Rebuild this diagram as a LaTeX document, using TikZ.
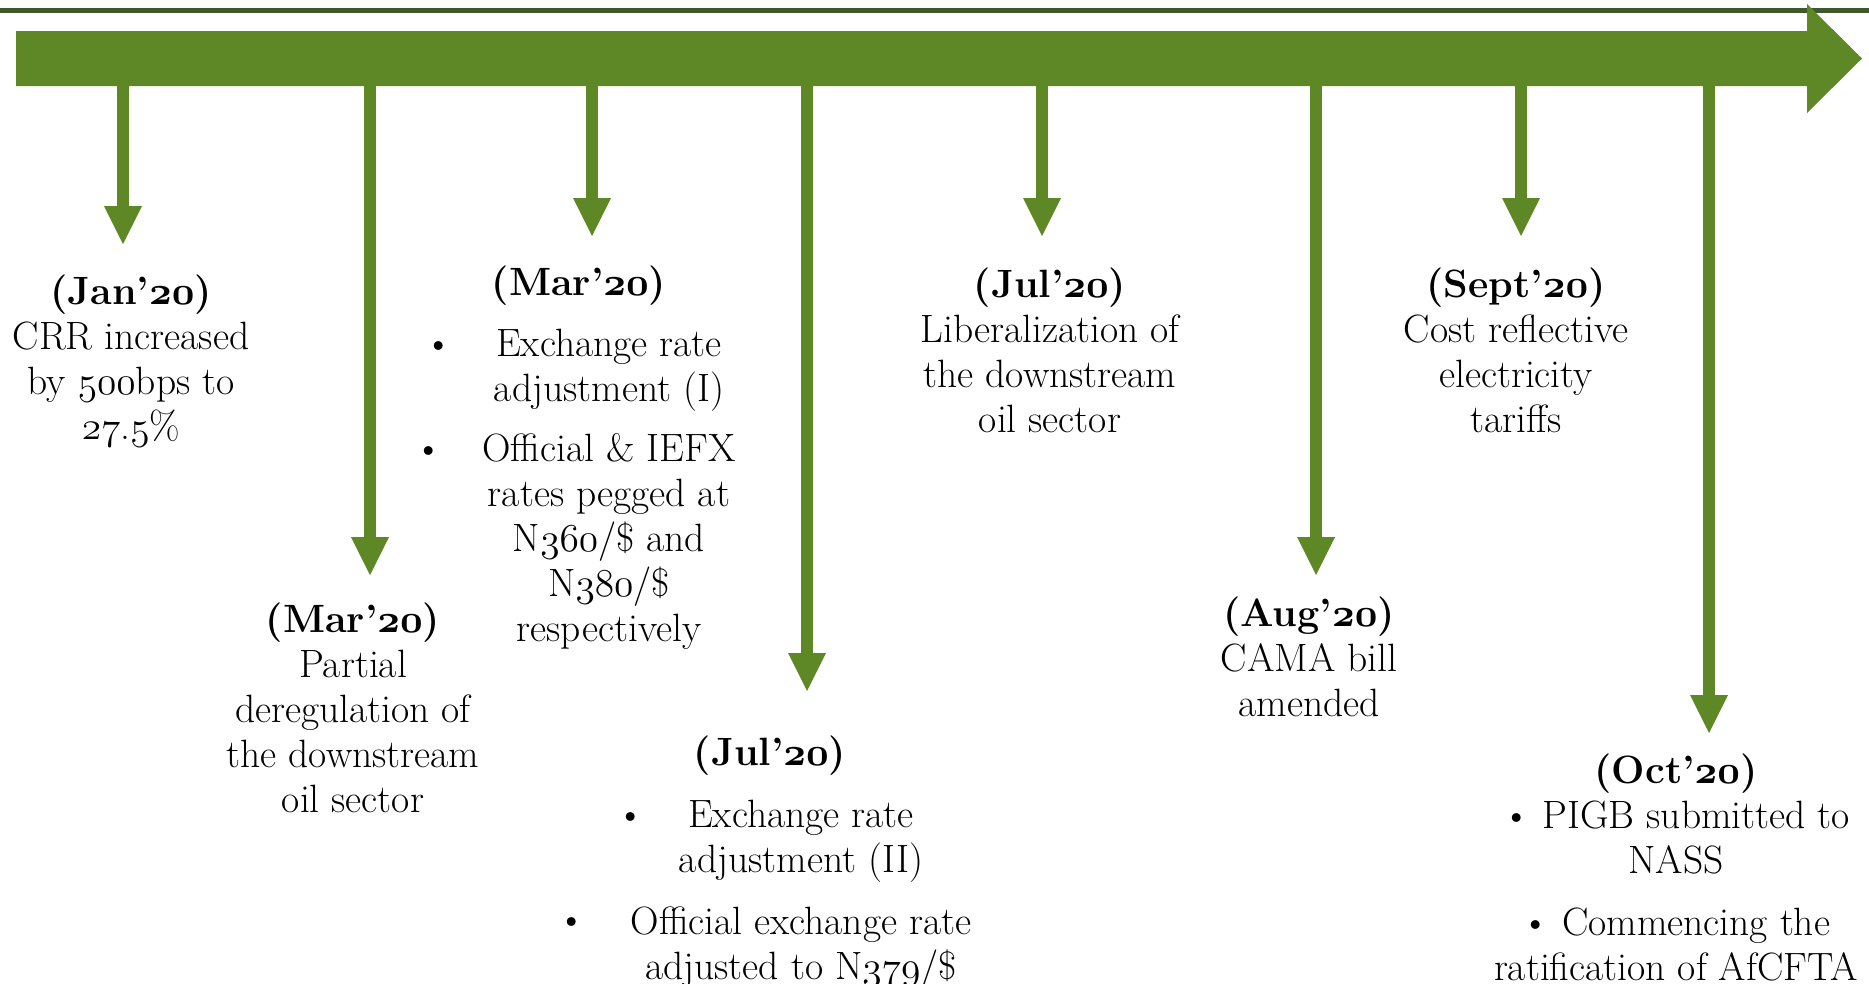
\documentclass[tikz,border=0pt]{standalone}
\usetikzlibrary{arrows.meta}
\font\osfm=cmmi12 at 39.5pt
\font\osfb=cmmib10 at 39.5pt
\definecolor{barg}{RGB}{94,135,37}
\definecolor{lineg}{RGB}{62,90,44}
\newcommand\on[1]{{\osfm #1}}
\newcommand\onb[1]{{\osfb #1}}
\newcommand\pb[1]{\parbox[t]{380pt}{\centering #1}}
\begin{document}
\begin{tikzpicture}[x=1pt,y=-1pt,
  txt/.style={anchor=base, inner sep=0pt, font=\fontsize{39.5}{45}\selectfont},
  varrow/.style={draw=barg, line width=12pt, -{Triangle[width=38pt,length=38pt,line width=0pt]}},
  bar/.style={fill=barg, draw=none}]
\useasboundingbox (0,0) rectangle (1869,983);
% top line
\coordinate (L0) at (0,10);
\coordinate (L1) at (1869,10);
\draw[lineg, line width=5pt] (L0) -- (L1);
% main timeline arrow
\path[bar] (16,31) -- (1807,31) -- (1807,4) -- (1862,58.5) -- (1807,113) -- (1807,86) -- (16,86) -- cycle;
% arrow start / end points
\foreach \n/\x/\t in {1/123/244, 2/370/575, 3/592/236, 4/807/691, 5/1042/236, 6/1316/575, 7/1521/236, 8/1709/733}{
  \coordinate (s\n) at (\x,86);
  \coordinate (e\n) at (\x,\t);
  \draw[varrow] (s\n) -- (e\n);
}
% texts
\node[txt] (n1) at (131,304) {\pb{\textbf{(Jan’\onb{20})}\\CRR increased\\by \on{500}bps to\\\on{27}.\on{5}\%}};
\node[txt] (n2) at (353,632) {\pb{\textbf{(Mar’\onb{20})}\\Partial\\deregulation of\\the downstream\\oil sector}};
\node[txt] (n3h) at (579,295) {\textbf{(Mar’\onb{20})}};
\node[txt] (n3) at (609,356) {\pb{Exchange rate\\adjustment (I)\\[15pt]Official \& IEFX\\rates pegged at\\N\on{360}/\$ and\\N\on{380}/\$\\respectively}};
\node[txt] (b3a) at (439,356) {\textbullet};
\node[txt] (b3b) at (429,461) {\textbullet};
\node[txt] (n4h) at (770,765) {\textbf{(Jul’\onb{20})}};
\node[txt] (n4) at (801,827) {\pb{Exchange rate\\adjustment (II)\\[17pt]Official exchange rate\\adjusted to N\on{379}/\$}};
\node[txt] (b4a) at (631,827) {\textbullet};
\node[txt] (b4b) at (572,932) {\textbullet};
\node[txt] (n5) at (1050,297) {\pb{\textbf{(Jul’\onb{20})}\\Liberalization of\\the downstream\\oil sector}};
\node[txt] (n6) at (1309,626) {\pb{\textbf{(Aug’\onb{20})}\\CAMA bill\\amended}};
\node[txt] (n7) at (1516,297) {\pb{\textbf{(Sept’\onb{20})}\\Cost reflective\\electricity\\tariffs}};
\node[txt] (n8) at (1676,783) {\pb{\textbf{(Oct’\onb{20})}\\\textbullet\ PIGB submitted to\\NASS\\[17pt]\textbullet\ Commencing the\\ratification of AfCFTA}};
\end{tikzpicture}
\end{document}
